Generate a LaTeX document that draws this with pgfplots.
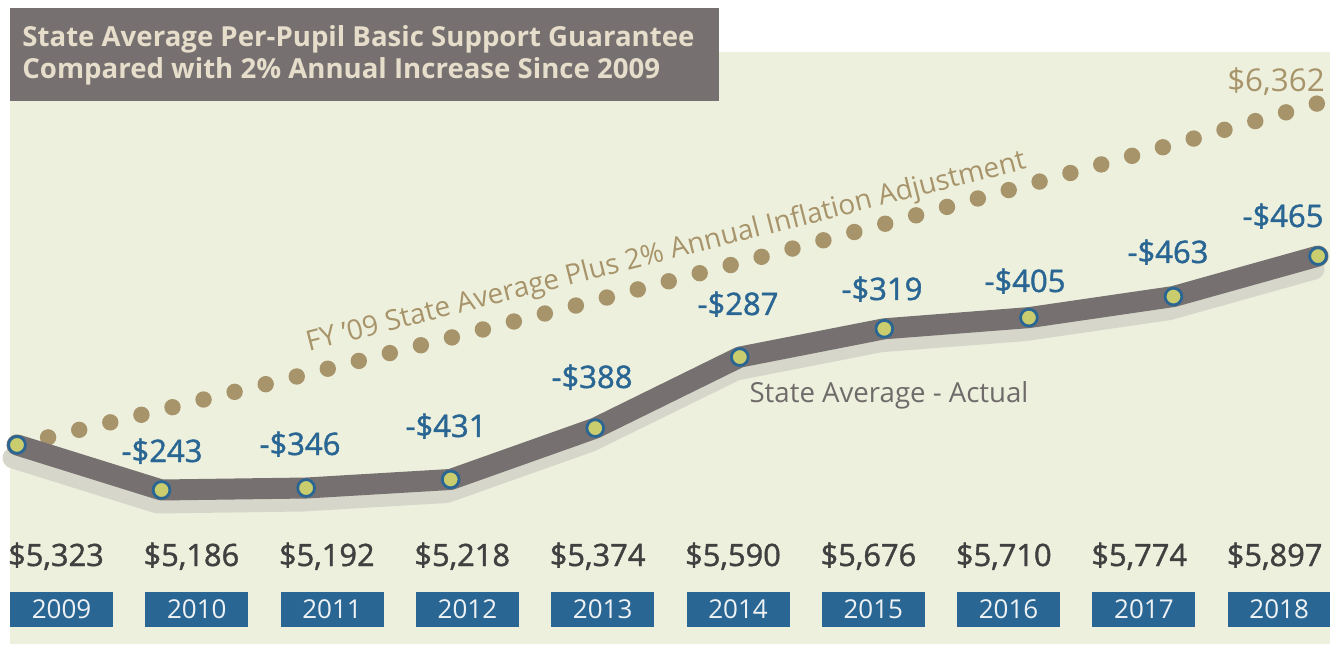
\documentclass[border=0pt]{standalone}
\usepackage{pgfplots}
\pgfplotsset{compat=1.18}
\usepackage{fontspec}
\setmainfont{Open Sans}
\newfontfamily\semib[FakeBold=1.3]{Open Sans}
\definecolor{cream}{HTML}{EDF0DC}
\definecolor{boxgrey}{HTML}{767170}
\definecolor{titletxt}{HTML}{E6DDCB}
\definecolor{tan}{HTML}{A8946B}
\definecolor{shadow}{HTML}{D6D6CA}
\definecolor{myblue}{HTML}{2A6693}
\definecolor{dotfill}{HTML}{C9CD6E}
\definecolor{valgrey}{HTML}{404040}
\definecolor{yeartxt}{HTML}{EEF2F4}
\definecolor{lblgrey}{HTML}{6F6B6A}
\begin{document}
\begin{tikzpicture}
% background
\begin{scope}[x=0.5pt,y=-0.5pt,shift={(0pt,322pt)}]
\fill[white] (0,0) rectangle (1330,644);
\fill[cream] (10,52) rectangle (1330,644);
\end{scope}
\begin{axis}[
  at={(0pt,0pt)}, anchor=south west,
  width=665pt, height=322pt, scale only axis,
  xmin=-0.1176, xmax=9.0828, ymin=4717.9, ymax=6675.4,
  axis lines=none, ticks=none, clip=false,
]
% 2% inflation line
\addplot[tan, line width=8.2pt, line cap=round, dash pattern=on 0pt off 16.0pt]
 coordinates {(0,5323) (1,5429.46) (2,5538.05) (3,5648.81) (4,5761.79) (5,5877.02) (6,5994.56) (7,6114.45) (8,6236.74) (9,6361.48)};
% shadow
\addplot[shadow, line width=10.5pt, line cap=round, line join=round, xshift=-2pt, yshift=-6.5pt]
 coordinates {(0,5323) (1,5186) (2,5192) (3,5218) (4,5374) (5,5590) (6,5676) (7,5710) (8,5774) (9,5897)};
% actual
\addplot[boxgrey, line width=10.5pt, line cap=round, line join=round]
 coordinates {(0,5323) (1,5186) (2,5192) (3,5218) (4,5374) (5,5590) (6,5676) (7,5710) (8,5774) (9,5897)};
\addplot[only marks, mark=*, mark size=4.2pt, mark options={fill=dotfill, draw=myblue, line width=1.4pt}]
 coordinates {(0,5323) (1,5186) (2,5192) (3,5218) (4,5374) (5,5590) (6,5676) (7,5710) (8,5774) (9,5897)};
\end{axis}
\begin{scope}[x=0.5pt,y=-0.5pt,shift={(0pt,322pt)}]
% title
\fill[boxgrey] (10,8) rectangle (719,101);
\node[anchor=base west, inner sep=0, text=titletxt, font=\bfseries\fontsize{13.8pt}{16pt}\selectfont] at (22,47) {State Average Per-Pupil Basic Support Guarantee};
\node[anchor=base west, inner sep=0, text=titletxt, font=\bfseries\fontsize{13.8pt}{16pt}\selectfont] at (22,79) {Compared with 2\% Annual Increase Since 2009};
% gap labels
\begin{scope}[every node/.style={anchor=base, inner sep=0, text=myblue, font=\semib\fontsize{15.5pt}{18pt}\selectfont}]
\node at (162,462) {-\$243};
\node at (300,455) {-\$346};
\node at (446,437) {-\$431};
\node at (592,388) {-\$388};
\node at (738,315) {-\$287};
\node at (882,300) {-\$319};
\node at (1025,292) {-\$405};
\node at (1168,263) {-\$463};
\node at (1283,227) {-\$465};
\end{scope}
\node[anchor=base, inner sep=0, text=tan, font=\fontsize{15.7pt}{18pt}\selectfont] at (1276,92) {\$6,362};
\node[anchor=base, inner sep=0, text=tan, rotate=14.3, font=\fontsize{14pt}{16pt}\selectfont] at (668,260) {FY '09 State Average Plus 2\% Annual Inflation Adjustment};
\node[anchor=base, inner sep=0, text=lblgrey, font=\fontsize{13.8pt}{16pt}\selectfont] at (889,402) {State Average - Actual};
% bottom values and years
\foreach \a/\b/\y [count=\k from 0] in {5/323/2009, 5/186/2010, 5/192/2011, 5/218/2012, 5/374/2013, 5/590/2014, 5/676/2015, 5/710/2016, 5/774/2017, 5/897/2018}{
  \pgfmathsetmacro{\bx}{10+135.3*\k}
  \pgfmathsetmacro{\cx}{61.5+135.3*\k}
  \pgfmathsetmacro{\vx}{56+135.4*\k}
  \fill[myblue] (\bx,592) rectangle +(103,35);
  \node[anchor=base, inner sep=0, text=yeartxt, font=\fontsize{13pt}{15pt}\selectfont] at (\cx,618) {\y};
  \node[anchor=base, inner sep=0, text=valgrey, font=\semib\fontsize{15.4pt}{18pt}\selectfont] at (\vx,566) {\$\a,\b};
}
\end{scope}
\pgfresetboundingbox
\useasboundingbox (0pt,0pt) rectangle (665pt,322pt);
\end{tikzpicture}
\end{document}
